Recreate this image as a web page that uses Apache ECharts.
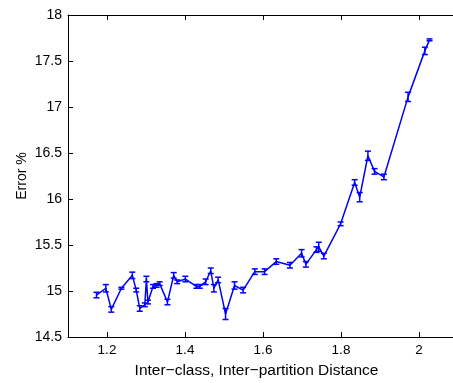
<!DOCTYPE html>
<html>
<head>
<meta charset="utf-8">
<script src="https://cdn.jsdelivr.net/npm/echarts@6/dist/echarts.min.js"></script>
<style>html,body{margin:0;padding:0;background:#fff;}#c{width:453px;height:383px;}</style>
</head>
<body>
<div id="c"></div>
<script>
var distance = [1.173,1.197,1.211,1.237,1.265,1.275,1.284,1.297,1.301,1.305,1.318,1.327,1.335,1.355,1.371,1.380,1.401,1.429,1.438,1.453,1.466,1.474,1.485,1.504,1.527,1.549,1.579,1.604,1.634,1.669,1.699,1.710,1.737,1.743,1.756,1.799,1.835,1.848,1.869,1.886,1.910,1.972,2.015,2.027];
var errorPct = [14.956,15.03,14.80,15.03,15.17,15.01,14.81,14.85,15.13,14.88,15.05,15.06,15.08,14.88,15.17,15.10,15.13,15.05,15.05,15.10,15.22,15.03,15.12,14.75,15.06,15.01,15.21,15.21,15.32,15.28,15.41,15.29,15.45,15.48,15.38,15.73,16.18,16.02,16.47,16.30,16.24,17.11,17.61,17.73];
var errHalf = [0.03,0.04,0.03,0.01,0.035,0.02,0.03,0.02,0.03,0.02,0.02,0.02,0.02,0.03,0.03,0.02,0.03,0.02,0.02,0.03,0.03,0.04,0.03,0.06,0.04,0.03,0.03,0.03,0.03,0.03,0.04,0.03,0.03,0.05,0.03,0.02,0.03,0.05,0.05,0.03,0.03,0.05,0.04,0.01];
var xTicks = [1.2,1.4,1.6,1.8,2];
var yTicks = [14.5,15,15.5,16,16.5,17,17.5,18];

var lineData = distance.map(function(x,i){return [x, errorPct[i]];});
var barData = distance.map(function(x,i){return [x, errorPct[i]-errHalf[i], errorPct[i]+errHalf[i]];});

var chart = echarts.init(document.getElementById('c'), null, {renderer:'canvas'});
var fontFam = 'Liberation Sans, Arial, sans-serif';
var blue = '#0000ff';
chart.setOption({
  animation:false,
  backgroundColor:'#fff',
  grid:{left:68,top:15,width:390,height:322,containLabel:false,outerBoundsMode:'none'},
  xAxis:[{
    type:'value', min:1.1, max:2.1, position:'bottom',
    name:'Inter\u2212class, Inter\u2212partition Distance',
    nameLocation:'middle', nameGap:26,
    nameTextStyle:{fontFamily:fontFam,fontSize:15.5,color:'#000',padding:[0,13,0,0]},
    axisLine:{lineStyle:{color:'#000',width:1}},
    axisTick:{inside:true,length:5,customValues:xTicks,lineStyle:{color:'#000'}},
    axisLabel:{customValues:xTicks,fontFamily:fontFam,fontSize:13.5,color:'#000',margin:6,formatter:function(v){return String(v);}},
    splitLine:{show:false}
  },{
    type:'value', min:1.1, max:2.1, position:'top',
    axisLine:{lineStyle:{color:'#000',width:1}},
    axisTick:{inside:true,length:5,customValues:xTicks,lineStyle:{color:'#000'}},
    axisLabel:{show:false},
    splitLine:{show:false}
  }],
  yAxis:[{
    type:'value', min:14.5, max:18, interval:0.5,
    name:'Error %', nameLocation:'middle', nameGap:39, nameMoveOverlap:false,
    nameTextStyle:{fontFamily:fontFam,fontSize:14,color:'#000'},
    axisLine:{show:true,lineStyle:{color:'#000',width:1}},
    axisTick:{show:true,inside:true,length:5,lineStyle:{color:'#000'}},
    axisLabel:{fontFamily:fontFam,fontSize:14,color:'#000',margin:6,formatter:function(v){return String(v);}},
    splitLine:{show:false}
  },{
    type:'value', min:14.5, max:18, interval:0.5, position:'right',
    axisLine:{show:true,lineStyle:{color:'#000',width:1}},
    axisTick:{show:true,inside:true,length:5,lineStyle:{color:'#000'}},
    axisLabel:{show:false}, splitLine:{show:false}
  }],
  series:[{
    type:'line', data:lineData, symbol:'none',
    lineStyle:{color:blue,width:1.5}, z:3
  },{
    type:'custom', data:barData, z:4,
    encode:{x:0,y:[1,2]},
    renderItem:function(params, api){
      var x = api.value(0);
      var lo = api.coord([x, api.value(1)]);
      var hi = api.coord([x, api.value(2)]);
      var w = 3;
      var st = {stroke:blue, lineWidth:1.5, fill:null};
      return {type:'group', children:[
        {type:'line', shape:{x1:lo[0],y1:lo[1],x2:hi[0],y2:hi[1]}, style:st},
        {type:'line', shape:{x1:lo[0]-w,y1:lo[1],x2:lo[0]+w,y2:lo[1]}, style:st},
        {type:'line', shape:{x1:hi[0]-w,y1:hi[1],x2:hi[0]+w,y2:hi[1]}, style:st}
      ]};
    }
  }]
});
</script>
</body>
</html>
